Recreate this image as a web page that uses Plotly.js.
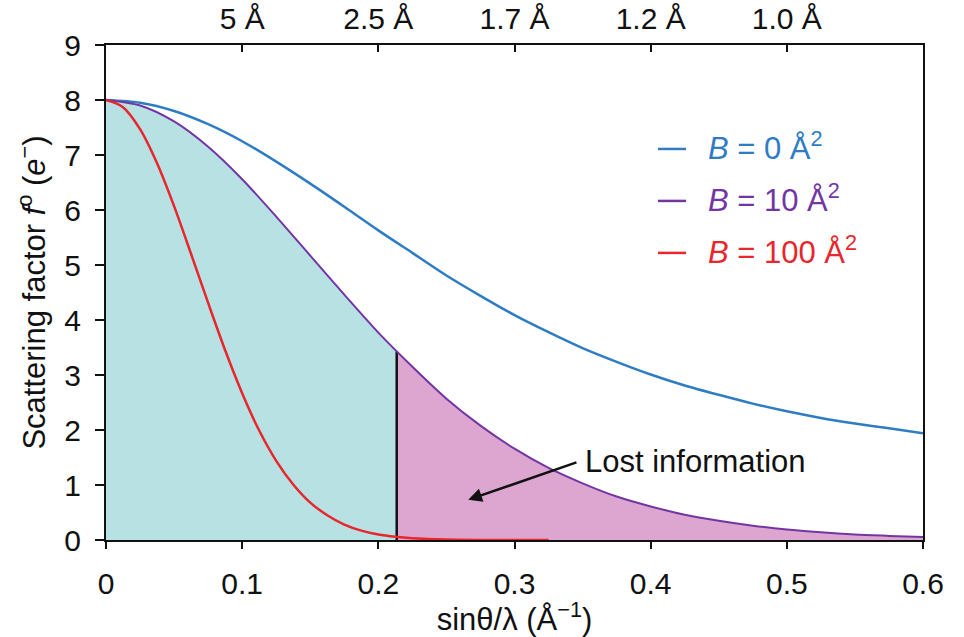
<!DOCTYPE html>
<html>
<head>
<meta charset="utf-8">
<script src="https://cdn.plot.ly/plotly-3.0.1.min.js"></script>
<style>html,body{margin:0;padding:0;background:#fff;}#chart{width:964px;height:637px;}</style>
</head>
<body>
<div id="chart"></div>
<script>
// sinθ/λ values (Å^-1)
const sVals = [0, 0.025, 0.05, 0.075, 0.1, 0.125, 0.15, 0.175, 0.2, 0.225, 0.25, 0.275, 0.3,
  0.325, 0.35, 0.375, 0.4, 0.425, 0.45, 0.475, 0.5, 0.525, 0.55, 0.575, 0.6];
// B = 0 Å^2
const fB0 = [8.00, 7.95, 7.80, 7.56, 7.25, 6.88, 6.48, 6.06, 5.63, 5.22, 4.81, 4.44, 4.09,
  3.78, 3.49, 3.24, 3.01, 2.81, 2.64, 2.48, 2.34, 2.22, 2.12, 2.03, 1.94];
// B = 10 Å^2
const fB10 = [8.00, 7.90, 7.61, 7.15, 6.56, 5.88, 5.17, 4.46, 3.77, 3.15, 2.57, 2.08, 1.66,
  1.31, 1.03, 0.79, 0.61, 0.46, 0.35, 0.26, 0.19, 0.14, 0.10, 0.075, 0.053];
// B = 100 Å^2
const sRed = [0, 0.0125, 0.025, 0.0375, 0.05, 0.0625, 0.075, 0.0875, 0.1, 0.1125, 0.125, 0.1375,
  0.15, 0.1625, 0.175, 0.1875, 0.2, 0.2125, 0.225, 0.25, 0.275, 0.3, 0.325];
const fB100 = [8.00, 7.87, 7.47, 6.85, 6.07, 5.20, 4.31, 3.45, 2.67, 1.99, 1.44, 1.01,
  0.68, 0.45, 0.28, 0.17, 0.10, 0.059, 0.033, 0.009, 0.002, 0.0005, 0];
// resolution cutoff
const cutoffS = 0.2135;
const cutoffF = 3.43;
// top axis (resolution)
const topTickVals = [0.1, 0.2, 0.3, 0.4, 0.5];
const topTickText = ['5 Å', '2.5 Å', '1.7 Å', '1.2 Å', '1.0 Å'];
const bottomTickVals = [0, 0.1, 0.2, 0.3, 0.4, 0.5, 0.6];
const bottomTickText = ['0', '0.1', '0.2', '0.3', '0.4', '0.5', '0.6'];
const seriesLabels = ['<i>B</i> = 0 Å<sup>2</sup>', '<i>B</i> = 10 Å<sup>2</sup>', '<i>B</i> = 100 Å<sup>2</sup>'];
const seriesColors = ['#2E7DC4', '#7236A4', '#E8262C'];
const lostText = 'Lost information';
const arrowHead = [0.266, 0.73];
const arrowTail = [0.3466, 1.42];

const FONT = 'Liberation Sans, Arial, sans-serif';
const TICK = 30;

const cyanX = [], cyanY = [], pinkX = [cutoffS], pinkY = [cutoffF];
sVals.forEach((s, i) => {
  if (s < cutoffS) { cyanX.push(s); cyanY.push(fB10[i]); }
  else { pinkX.push(s); pinkY.push(fB10[i]); }
});
cyanX.push(cutoffS); cyanY.push(cutoffF);

const traces = [
  {x: cyanX, y: cyanY, type: 'scatter', mode: 'lines', fill: 'tozeroy', fillcolor: '#B8E1E4',
   line: {width: 0, shape: 'spline', smoothing: 0.8}, hoverinfo: 'skip', showlegend: false},
  {x: pinkX, y: pinkY, type: 'scatter', mode: 'lines', fill: 'tozeroy', fillcolor: '#DDA6D0',
   line: {width: 0, shape: 'spline', smoothing: 0.8}, hoverinfo: 'skip', showlegend: false},
  {x: [cutoffS, cutoffS], y: [0, cutoffF], type: 'scatter', mode: 'lines',
   line: {color: '#111', width: 2.5}, showlegend: false},
  {x: sVals, y: fB0, type: 'scatter', mode: 'lines', line: {color: seriesColors[0], width: 2.5, shape: 'spline', smoothing: 0.8}, showlegend: false},
  {x: sVals, y: fB10, type: 'scatter', mode: 'lines', line: {color: seriesColors[1], width: 2, shape: 'spline', smoothing: 0.8}, showlegend: false},
  {x: sRed, y: fB100, type: 'scatter', mode: 'lines', line: {color: seriesColors[2], width: 2.5, shape: 'spline', smoothing: 0.8}, showlegend: false},
  {x: [0.3], y: [null], xaxis: 'x2', yaxis: 'y', type: 'scatter', mode: 'lines', showlegend: false}
];

const legendY = [0.790, 0.685, 0.580];
const shapes = [];
const annotations = [];
seriesLabels.forEach((lab, i) => {
  shapes.push({type: 'line', xref: 'paper', yref: 'paper', x0: 0.6756, x1: 0.71, y0: legendY[i], y1: legendY[i],
    line: {color: seriesColors[i], width: 2.5}});
  annotations.push({xref: 'paper', yref: 'paper', x: 0.735, y: legendY[i] + 0.006, xanchor: 'left', yanchor: 'middle',
    text: lab, showarrow: false, font: {family: FONT, size: 31, color: seriesColors[i]}});
});
annotations.push({x: arrowTail[0] + 0.004, y: arrowTail[1], xref: 'x', yref: 'y', xanchor: 'left', yanchor: 'middle',
  text: lostText, showarrow: false, font: {family: FONT, size: 31, color: '#111'}});
annotations.push({x: arrowHead[0], y: arrowHead[1], ax: arrowTail[0], ay: arrowTail[1], axref: 'x', ayref: 'y',
  xref: 'x', yref: 'y', text: '', showarrow: true, arrowhead: 2, arrowsize: 1.1, arrowwidth: 2.5, arrowcolor: '#111'});

const layout = {
  width: 964, height: 637,
  margin: {l: 106, r: 41, t: 45, b: 97},
  paper_bgcolor: '#fff', plot_bgcolor: '#fff',
  font: {family: FONT, size: TICK, color: '#111'},
  showlegend: false,
  xaxis: {range: [0, 0.6], tickvals: bottomTickVals, ticktext: bottomTickText, ticks: 'outside', ticklen: 7,
    tickwidth: 2, tickcolor: '#111', showline: true, linewidth: 2, linecolor: '#111', showgrid: false, zeroline: false,
    ticklabelstandoff: 9, tickfont: {family: FONT, size: TICK, color: '#111'},
    title: {text: 'sinθ/λ (Å<sup>−1</sup>)', font: {family: FONT, size: 31, color: '#111'}, standoff: 5}},
  xaxis2: {range: [0, 0.6], overlaying: 'x', side: 'top', tickvals: topTickVals, ticktext: topTickText,
    ticks: 'inside', ticklen: 7, tickwidth: 2, tickcolor: '#111', showline: true, linewidth: 2, linecolor: '#111',
    showgrid: false, zeroline: false, tickfont: {family: FONT, size: TICK, color: '#111'}, ticklabelstandoff: 2},
  yaxis: {range: [0, 9], dtick: 1, ticks: 'outside', ticklen: 9, tickwidth: 2, tickcolor: '#111', showline: true,
    linewidth: 2, linecolor: '#111', mirror: true, showgrid: false, zeroline: false, ticklabelstandoff: 8,
    tickfont: {family: FONT, size: TICK, color: '#111'},
    title: {text: 'Scattering factor <i>f</i><sup>o</sup> (<i>e</i><sup>−</sup>)', font: {family: FONT, size: 31, color: '#111'}, standoff: 9}},
  shapes: shapes,
  annotations: annotations
};

Plotly.newPlot('chart', traces, layout, {staticPlot: true, displayModeBar: false});
</script>
</body>
</html>
